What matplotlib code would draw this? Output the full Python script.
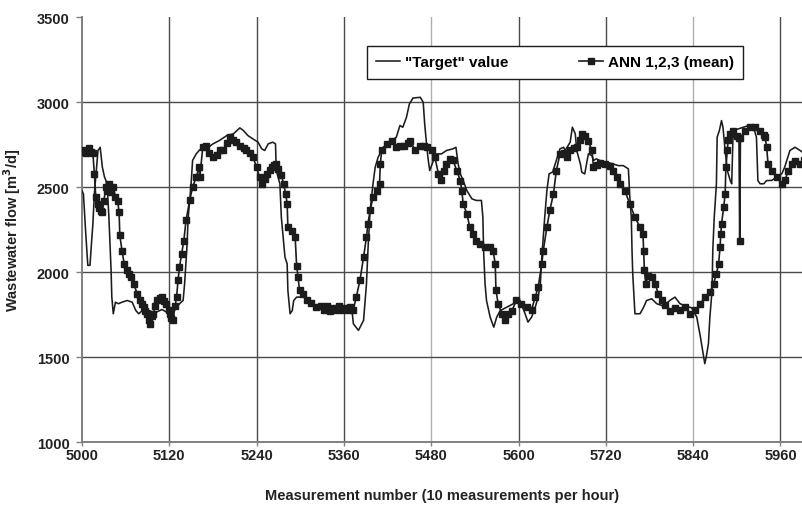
import matplotlib
matplotlib.use('Agg')
import matplotlib.pyplot as plt
import numpy as np

# "Target" value (thin line)
target_x = [5000, 5002, 5005, 5008, 5011, 5013, 5015, 5017, 5022, 5025, 5028, 5031, 5033, 5035,
            5037, 5040, 5041, 5043, 5046, 5050, 5055, 5062, 5069, 5074, 5078, 5083, 5087, 5092,
            5100, 5110, 5118, 5123, 5130, 5134, 5139, 5141, 5144, 5146, 5150, 5152, 5157, 5161,
            5166, 5171, 5180, 5189, 5199, 5208, 5217, 5222, 5228, 5235, 5242, 5247, 5251, 5256,
            5262, 5266, 5267, 5272, 5274, 5279, 5282, 5283, 5286, 5289, 5291, 5295, 5305, 5313,
            5320, 5330, 5340, 5350, 5360, 5371, 5373, 5380, 5387, 5391, 5393, 5396, 5400, 5403,
            5407, 5414, 5423, 5432, 5437, 5441, 5446, 5450, 5455, 5465, 5469, 5471, 5474, 5476,
            5478, 5483, 5487, 5494, 5501, 5510, 5514, 5517, 5520, 5524, 5529, 5536, 5542, 5549,
            5551, 5552, 5554, 5556, 5561, 5566, 5570, 5575, 5584, 5593, 5602, 5609, 5613, 5618,
            5623, 5627, 5630, 5632, 5636, 5639, 5642, 5647, 5652, 5657, 5662, 5664, 5671, 5674,
            5678, 5680, 5685, 5687, 5691, 5694, 5696, 5701, 5703, 5707, 5712, 5721, 5730, 5737,
            5744, 5751, 5753, 5755, 5756, 5757, 5760, 5767, 5772, 5776, 5783, 5790, 5799, 5808,
            5815, 5822, 5830, 5838, 5845, 5850, 5853, 5856, 5858, 5861, 5863, 5866, 5867, 5869,
            5872, 5873, 5876, 5879, 5881, 5884, 5887, 5891, 5893, 5895, 5902, 5909, 5916, 5923,
            5927, 5929, 5932, 5937, 5941, 5948, 5955, 5962, 5966, 5973, 5980, 5987, 5992]
target_y = [2480, 2460, 2240, 2040, 2040, 2167, 2284, 2461, 2716, 2735, 2618, 2559, 2539, 2480,
            2323, 2010, 1853, 1755, 1823, 1814, 1823, 1833, 1823, 1774, 1755, 1774, 1755, 1774,
            1760, 1780, 1760, 1755, 1790, 1814, 1833, 1930, 2127, 2323, 2520, 2657, 2696, 2716,
            2735, 2726, 2755, 2775, 2804, 2814, 2849, 2833, 2804, 2784, 2765, 2726, 2716, 2755,
            2765, 2755, 2598, 2520, 2323, 2088, 2049, 1892, 1755, 1774, 1833, 1853, 1853, 1833,
            1800, 1790, 1780, 1790, 1785, 1780, 1696, 1657, 1716, 1931, 2127, 2363, 2520, 2618,
            2676, 2735, 2765, 2794, 2863, 2853, 2912, 2990, 3025, 3029, 3000, 2873, 2735, 2657,
            2598, 2657, 2696, 2696, 2716, 2726, 2735, 2637, 2578, 2539, 2480, 2431, 2422, 2422,
            2323, 2127, 1931, 1833, 1735, 1676, 1735, 1774, 1794, 1814, 1833, 1755, 1706, 1735,
            1794, 1853, 1931, 2088, 2323, 2480, 2578, 2590, 2657, 2726, 2735, 2716, 2765, 2853,
            2814, 2716, 2637, 2588, 2578, 2647, 2696, 2686, 2657, 2667, 2657, 2647, 2637, 2627,
            2627, 2608, 2441, 2323, 2127, 1990, 1755, 1755, 1794, 1833, 1843, 1814, 1800, 1833,
            1853, 1814, 1800, 1790, 1735, 1618, 1539, 1461, 1500, 1578, 1735, 1892, 2127, 2323,
            2520, 2794, 2833, 2892, 2853, 2716, 2598, 2539, 2520, 2833, 2843, 2853, 2863, 2853,
            2794, 2539, 2520, 2520, 2539, 2540, 2560, 2580, 2620, 2716, 2735, 2716, 2700]

# ANN 1,2,3 (mean)
ann_x = [5000, 5003, 5006, 5009, 5012, 5015, 5017, 5019, 5022, 5024, 5026, 5028, 5030, 5033,
         5035, 5037, 5040, 5043, 5046, 5049, 5051, 5052, 5055, 5058, 5062, 5065, 5067, 5071,
         5076, 5080, 5083, 5085, 5087, 5089, 5092, 5094, 5096, 5098, 5101, 5103, 5107, 5110,
         5113, 5116, 5119, 5121, 5123, 5125, 5128, 5130, 5132, 5134, 5137, 5140, 5143, 5148,
         5152, 5157, 5161, 5162, 5166, 5171, 5175, 5180, 5185, 5190, 5194, 5199, 5203, 5208,
         5212, 5217, 5222, 5226, 5231, 5235, 5240, 5244, 5248, 5251, 5254, 5258, 5261, 5264,
         5267, 5270, 5274, 5277, 5280, 5282, 5283, 5288, 5293, 5295, 5297, 5299, 5304, 5309,
         5315, 5322, 5329, 5333, 5337, 5341, 5345, 5349, 5353, 5357, 5361, 5365, 5369, 5373,
         5377, 5382, 5387, 5391, 5393, 5396, 5400, 5405, 5409, 5410, 5412, 5419, 5426, 5432,
         5437, 5442, 5448, 5451, 5458, 5464, 5470, 5474, 5481, 5485, 5490, 5494, 5497, 5501,
         5506, 5510, 5515, 5520, 5522, 5524, 5529, 5533, 5538, 5542, 5547, 5554, 5561, 5565,
         5568, 5569, 5572, 5577, 5581, 5586, 5591, 5597, 5604, 5611, 5618, 5623, 5627, 5632,
         5634, 5639, 5643, 5648, 5652, 5657, 5662, 5666, 5671, 5676, 5680, 5684, 5687, 5691,
         5696, 5701, 5703, 5708, 5712, 5719, 5726, 5730, 5735, 5740, 5746, 5753, 5760, 5767,
         5771, 5772, 5773, 5775, 5778, 5783, 5788, 5792, 5797, 5801, 5808, 5815, 5822, 5829,
         5836, 5843, 5850, 5856, 5863, 5868, 5872, 5875, 5877, 5878, 5879, 5882, 5884, 5885,
         5887, 5888, 5891, 5895, 5900, 5903, 5904, 5905, 5911, 5918, 5925, 5932, 5937, 5939,
         5941, 5943, 5948, 5955, 5962, 5966, 5971, 5976, 5980, 5987, 5992]
ann_y = [2710, 2720, 2700, 2730, 2710, 2700, 2578, 2441, 2400, 2380, 2360, 2353, 2420, 2500,
         2480, 2520, 2470, 2500, 2441, 2420, 2353, 2216, 2127, 2049, 2010, 1990, 1970, 1931,
         1872, 1833, 1810, 1794, 1770, 1755, 1720, 1696, 1740, 1755, 1800, 1833, 1845, 1853,
         1830, 1814, 1780, 1755, 1730, 1716, 1800, 1853, 1951, 2029, 2108, 2186, 2304, 2422,
         2500, 2559, 2618, 2560, 2735, 2745, 2700, 2680, 2690, 2720, 2716, 2760, 2794, 2780,
         2765, 2745, 2730, 2716, 2700, 2677, 2618, 2559, 2520, 2550, 2578, 2600, 2618, 2630,
         2637, 2610, 2570, 2520, 2461, 2402, 2265, 2245, 2206, 2039, 1970, 1892, 1872, 1833,
         1820, 1794, 1800, 1780, 1800, 1770, 1790, 1775, 1800, 1780, 1790, 1775, 1795, 1780,
         1853, 1951, 2088, 2206, 2284, 2363, 2441, 2480, 2520, 2637, 2716, 2755, 2774, 2735,
         2740, 2745, 2760, 2774, 2716, 2745, 2740, 2735, 2716, 2676, 2578, 2540, 2598, 2637,
         2667, 2660, 2598, 2539, 2480, 2402, 2343, 2265, 2225, 2186, 2167, 2147, 2147, 2127,
         2049, 1892, 1814, 1755, 1716, 1755, 1774, 1833, 1814, 1794, 1780, 1853, 1912, 2049,
         2127, 2265, 2363, 2461, 2598, 2696, 2700, 2680, 2716, 2730, 2735, 2780, 2814, 2800,
         2770, 2716, 2618, 2630, 2640, 2637, 2627, 2598, 2559, 2520, 2480, 2402, 2323, 2265,
         2225, 2127, 2010, 1931, 1980, 1970, 1931, 1872, 1833, 1804, 1774, 1790, 1780, 1794,
         1755, 1775, 1814, 1853, 1882, 1931, 1990, 2049, 2147, 2225, 2284, 2382, 2461, 2618,
         2716, 2775, 2814, 2833, 2800, 2790, 2186, 2790, 2830, 2853, 2853, 2833, 2810, 2794,
         2735, 2637, 2598, 2559, 2520, 2540, 2598, 2637, 2657, 2637, 2660]

x_ticks = [5000, 5120, 5240, 5360, 5480, 5600, 5720, 5840, 5960]
y_ticks = [1000, 1500, 2000, 2500, 3000, 3500]

plt.rcParams['font.family'] = ['Liberation Sans', 'DejaVu Sans']
plt.rcParams['font.weight'] = 'bold'

fig = plt.figure(figsize=(8.03, 5.06), dpi=100)
ax = fig.add_axes([0.1021, 0.1245, 0.8979, 0.8393])

ink = '#1c1c1c'
ax.plot(target_x, target_y, color=ink, lw=1.15, label='"Target" value', zorder=3)
ax.plot(ann_x, ann_y, color=ink, lw=1.2, marker='s', ms=4.0, mec=ink, mfc=ink,
        label='ANN 1,2,3 (mean)', zorder=4)

ax.set_xlim(5000, 5991)
ax.set_ylim(1000, 3500)
ax.set_xticks(x_ticks)
ax.set_yticks(y_ticks)
ax.set_xticklabels([str(t) for t in x_ticks], fontsize=10.5, fontweight='bold', color='#222222')
ax.set_yticklabels([str(t) for t in y_ticks], fontsize=10.5, fontweight='bold', color='#222222')

# grid
ax.grid(True, color='#4a4a4a', lw=1.0)
ax.set_axisbelow(True)
for i, gl in enumerate(ax.get_xgridlines()):
    if x_ticks[i] in (5480, 5840):
        gl.set_color('#b0b0b0')
    if x_ticks[i] == 5000:
        gl.set_visible(False)
for i, gl in enumerate(ax.get_ygridlines()):
    if y_ticks[i] in (1000, 3500):
        gl.set_visible(False)

for s in ['top', 'right']:
    ax.spines[s].set_visible(False)
for s in ['left', 'bottom']:
    ax.spines[s].set_color('#808080')
    ax.spines[s].set_linewidth(1.4)
ax.tick_params(axis='x', direction='out', length=3, width=1.0, color='#808080', pad=1)
ax.tick_params(axis='y', direction='out', length=4, width=1.0, color='#808080', pad=5)

ax.set_xlabel('Measurement number (10 measurements per hour)', fontsize=10.5,
              fontweight='bold', color='#222222', labelpad=19)
ax.set_ylabel('Wastewater flow [m$^3$/d]', fontsize=10.5, fontweight='bold',
              color='#222222', labelpad=10)

leg = ax.legend(loc='upper left', bbox_to_anchor=(0.395, 0.932), borderaxespad=0,
                ncol=2, fancybox=False, frameon=True, edgecolor='#1c1c1c', framealpha=1,
                handlelength=1.6, handletextpad=0.3, columnspacing=4.6,
                borderpad=0.6, prop={'weight': 'bold', 'size': 11})
leg.get_frame().set_linewidth(1.0)
leg.set_zorder(10)

fig.savefig('out.png', dpi=100)
